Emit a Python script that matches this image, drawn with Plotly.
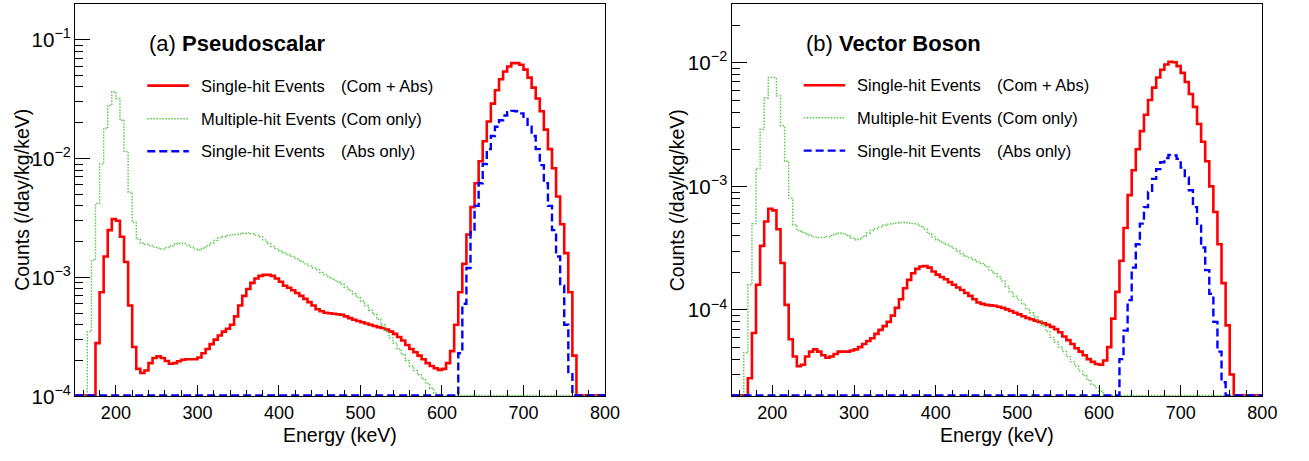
import numpy as np
import plotly.graph_objects as go

# ---------------- data (5 keV bins, values per bin starting at *_start) ----------------
E_MIN, E_MAX, BIN = 150, 800, 5

# panel (a) Pseudoscalar
a_red_start = 175
a_red = [2.8e-4, 7.5e-4, 1.5e-3, 2.5e-3, 3.1e-3, 3.0e-3, 2.2e-3, 1.35e-3, 5.8e-4, 2.6e-4,
         1.7e-4, 1.57e-4, 1.65e-4, 1.9e-4, 2.1e-4, 2.17e-4, 2.1e-4, 1.98e-4, 1.88e-4, 1.9e-4,
         1.97e-4, 2.03e-4, 2.05e-4, 2.05e-4, 2.05e-4, 2.12e-4, 2.3e-4, 2.5e-4, 2.75e-4, 3.0e-4,
         3.25e-4, 3.5e-4, 3.7e-4, 4.0e-4, 4.7e-4, 5.8e-4, 7.0e-4, 8.0e-4, 9.0e-4, 9.8e-4,
         1.03e-3, 1.05e-3, 1.05e-3, 1.03e-3, 9.8e-4, 9.2e-4, 8.5e-4, 8.2e-4, 7.8e-4, 7.4e-4,
         7.0e-4, 6.6e-4, 6.2e-4, 5.8e-4, 5.4e-4, 5.2e-4, 5.05e-4, 5.0e-4, 4.95e-4, 4.9e-4,
         4.85e-4, 4.7e-4, 4.55e-4, 4.4e-4, 4.3e-4, 4.2e-4, 4.1e-4, 4.0e-4, 3.9e-4, 3.82e-4,
         3.76e-4, 3.65e-4, 3.5e-4, 3.35e-4, 3.15e-4, 2.95e-4, 2.7e-4, 2.5e-4, 2.35e-4, 2.2e-4,
         2.05e-4, 1.9e-4, 1.8e-4, 1.72e-4, 1.67e-4, 1.7e-4, 1.9e-4, 2.4e-4, 4.0e-4, 7.5e-4,
         1.3e-3, 2.3e-3, 3.9e-3, 6.2e-3, 9.5e-3, 1.4e-2, 2.05e-2, 2.9e-2, 3.75e-2, 4.65e-2,
         5.4e-2, 5.95e-2, 6.35e-2, 6.35e-2, 6.15e-2, 5.6e-2, 4.8e-2, 3.95e-2, 3.2e-2, 2.5e-2,
         1.75e-2, 1.2e-2, 8.3e-3, 4.8e-3, 2.8e-3, 1.6e-3, 7.5e-4, 2.2e-4]

a_green_start = 165
a_green = [3.5e-4, 1.4e-3, 4.2e-3, 9.0e-3, 1.8e-2, 2.8e-2, 3.65e-2, 3.2e-2, 2.1e-2, 1.15e-2,
           5.2e-3, 2.9e-3, 2.1e-3, 1.95e-3, 1.9e-3, 1.85e-3, 1.8e-3, 1.76e-3, 1.74e-3, 1.78e-3,
           1.84e-3, 1.9e-3, 1.94e-3, 1.93e-3, 1.87e-3, 1.8e-3, 1.73e-3, 1.7e-3, 1.76e-3, 1.85e-3,
           1.95e-3, 2.05e-3, 2.15e-3, 2.2e-3, 2.25e-3, 2.28e-3, 2.3e-3, 2.32e-3, 2.35e-3, 2.37e-3,
           2.33e-3, 2.27e-3, 2.2e-3, 2.07e-3, 1.93e-3, 1.82e-3, 1.74e-3, 1.67e-3, 1.6e-3, 1.55e-3,
           1.5e-3, 1.44e-3, 1.37e-3, 1.3e-3, 1.25e-3, 1.2e-3, 1.16e-3, 1.1e-3, 1.05e-3, 1.0e-3,
           9.6e-4, 9.2e-4, 8.8e-4, 8.3e-4, 7.8e-4, 7.3e-4, 6.8e-4, 6.3e-4, 5.8e-4, 5.3e-4,
           4.9e-4, 4.45e-4, 4.0e-4, 3.5e-4, 3.1e-4, 2.8e-4, 2.5e-4, 2.25e-4, 2.0e-4, 1.8e-4,
           1.65e-4, 1.52e-4, 1.4e-4, 1.28e-4, 1.17e-4, 1.06e-4]

a_blue_start = 620
a_blue = [2.3e-4, 6.0e-4, 1.2e-3, 2.4e-3, 4.0e-3, 6.2e-3, 9.0e-3, 1.2e-2, 1.55e-2, 1.85e-2,
          2.1e-2, 2.3e-2, 2.45e-2, 2.52e-2, 2.5e-2, 2.4e-2, 2.15e-2, 1.85e-2, 1.55e-2, 1.2e-2,
          8.8e-3, 6.2e-3, 4.0e-3, 2.5e-3, 1.5e-3, 8.5e-4, 4.0e-4, 1.6e-4]

# panel (b) Vector Boson
b_red_start = 170
b_red = [2.8e-5, 6.5e-5, 1.6e-4, 3.3e-4, 5.2e-4, 6.6e-4, 6.4e-4, 4.5e-4, 2.4e-4, 1.1e-4,
         5.8e-5, 4.2e-5, 3.5e-5, 3.6e-5, 4.2e-5, 4.6e-5, 4.8e-5, 4.6e-5, 4.3e-5, 4.1e-5,
         4.2e-5, 4.4e-5, 4.6e-5, 4.6e-5, 4.6e-5, 4.7e-5, 4.8e-5, 5.0e-5, 5.3e-5, 5.6e-5,
         5.9e-5, 6.4e-5, 6.9e-5, 7.4e-5, 8.0e-5, 9.0e-5, 1.04e-4, 1.22e-4, 1.5e-4, 1.75e-4,
         1.98e-4, 2.15e-4, 2.25e-4, 2.27e-4, 2.2e-4, 2.05e-4, 1.93e-4, 1.85e-4, 1.77e-4, 1.68e-4,
         1.6e-4, 1.52e-4, 1.45e-4, 1.37e-4, 1.3e-4, 1.22e-4, 1.15e-4, 1.12e-4, 1.1e-4, 1.09e-4,
         1.08e-4, 1.06e-4, 1.04e-4, 1.01e-4, 9.8e-5, 9.5e-5, 9.2e-5, 8.9e-5, 8.6e-5, 8.4e-5,
         8.2e-5, 8.0e-5, 7.8e-5, 7.6e-5, 7.3e-5, 7.0e-5, 6.6e-5, 6.1e-5, 5.7e-5, 5.3e-5,
         4.9e-5, 4.6e-5, 4.3e-5, 4.0e-5, 3.8e-5, 3.65e-5, 3.6e-5, 3.9e-5, 5.0e-5, 8.5e-5,
         1.4e-4, 2.5e-4, 4.6e-4, 8.5e-4, 1.35e-3, 2.0e-3, 2.8e-3, 3.8e-3, 5.0e-3, 6.3e-3,
         7.6e-3, 8.8e-3, 9.7e-3, 1.02e-2, 1.01e-2, 9.4e-3, 8.3e-3, 7.0e-3, 5.6e-3, 4.4e-3,
         3.2e-3, 2.3e-3, 1.6e-3, 1.0e-3, 6.2e-4, 3.4e-4, 1.65e-4, 7.5e-5, 3.0e-5]

b_green_start = 165
b_green = [4.5e-5, 1.6e-4, 5.0e-4, 1.4e-3, 2.9e-3, 5.2e-3, 7.6e-3, 7.6e-3, 5.4e-3, 3.1e-3,
           1.6e-3, 8.0e-4, 4.9e-4, 4.4e-4, 4.25e-4, 4.1e-4, 4.0e-4, 3.9e-4, 3.85e-4, 3.87e-4,
           3.93e-4, 4.0e-4, 4.1e-4, 4.18e-4, 4.15e-4, 4.0e-4, 3.8e-4, 3.7e-4, 3.75e-4, 3.95e-4,
           4.2e-4, 4.4e-4, 4.55e-4, 4.7e-4, 4.85e-4, 4.95e-4, 5.0e-4, 5.05e-4, 5.1e-4, 5.1e-4,
           5.05e-4, 5.0e-4, 4.95e-4, 4.75e-4, 4.5e-4, 4.15e-4, 3.9e-4, 3.7e-4, 3.55e-4, 3.4e-4,
           3.3e-4, 3.15e-4, 3.0e-4, 2.85e-4, 2.72e-4, 2.65e-4, 2.55e-4, 2.45e-4, 2.37e-4, 2.25e-4,
           2.1e-4, 1.97e-4, 1.86e-4, 1.72e-4, 1.55e-4, 1.4e-4, 1.29e-4, 1.2e-4, 1.12e-4, 1.02e-4,
           9.5e-5, 8.8e-5, 8.2e-5, 7.4e-5, 6.7e-5, 6.0e-5, 5.5e-5, 5.0e-5, 4.6e-5, 4.2e-5,
           3.8e-5, 3.5e-5, 3.2e-5, 2.95e-5, 2.7e-5, 2.5e-5, 2.35e-5, 2.2e-5, 2.05e-5]

b_blue_start = 625
b_blue = [4.0e-5, 6.8e-5, 1.2e-4, 2.2e-4, 3.4e-4, 5.0e-4, 6.8e-4, 9.0e-4, 1.15e-3, 1.38e-3,
          1.57e-3, 1.7e-3, 1.8e-3, 1.78e-3, 1.67e-3, 1.42e-3, 1.18e-3, 9.3e-4, 6.8e-4, 4.8e-4,
          3.2e-4, 2.1e-4, 1.35e-4, 8.0e-5, 4.6e-5, 2.6e-5]

legend_labels = [("Single-hit Events", "(Com + Abs)"),
                 ("Multiple-hit Events", "(Com only)"),
                 ("Single-hit Events", "(Abs only)")]
titles = [("(a)", "Pseudoscalar"), ("(b)", "Vector Boson")]
x_title = "Energy (keV)"
y_title = "Counts (/day/kg/keV)"
y_ranges = [(1e-4, 0.2), (2e-5, 3e-2)]

# ---------------- styling ----------------
W, H = 1309, 461
FONT = "Liberation Sans, Arial, Helvetica, sans-serif"
styles = [dict(color="#ff0000", width=2.6, dash="solid"),
          dict(color="#55c844", width=1.4, dash="1.5px,1.5px"),
          dict(color="#0000ff", width=2.4, dash="8px,4px")]

edges = np.arange(E_MIN, E_MAX + BIN, BIN)
nbins = len(edges) - 1

# plot frames (pixels)
frames = [(76, 612), (740, 1277)]
y_top, y_bot = 4, 406
ytitle_x = [22, 685]


def full_hist(start, vals):
    arr = np.zeros(nbins)
    i0 = (start - E_MIN) // BIN
    arr[i0:i0 + len(vals)] = vals
    return arr


panels = [
    [(a_red_start, a_red), (a_green_start, a_green), (a_blue_start, a_blue)],
    [(b_red_start, b_red), (b_green_start, b_green), (b_blue_start, b_blue)],
]

fig = go.Figure()
for p, series in enumerate(panels):
    lo, hi = y_ranges[p]
    dec_px = (y_bot - y_top) / (np.log10(hi) - np.log10(lo))
    floor = lo * 10 ** (1.0 / dec_px)  # empty bins drawn along the frame bottom, as ROOT does
    xa = "x" if p == 0 else "x2"
    ya = "y" if p == 0 else "y2"
    for s, (start, vals) in enumerate(series):
        h = full_hist(start, vals)
        h = np.where(h > floor, h, floor)
        yy = np.append(h, h[-1])
        fig.add_trace(go.Scatter(x=edges, y=yy, mode="lines", line_shape="hv",
                                 line=styles[s], xaxis=xa, yaxis=ya,
                                 showlegend=False, hoverinfo="skip"))

axis_common = dict(showline=True, linecolor="black", linewidth=1, mirror=True,
                   showgrid=False, zeroline=False, ticks="inside", tickcolor="black")

for p in range(2):
    sfx = "" if p == 0 else "2"
    x0, x1 = frames[p]
    fig.update_layout(**{
        "xaxis" + sfx: dict(axis_common, domain=[x0 / W, x1 / W], range=[E_MIN, E_MAX],
                            anchor="y" + sfx, tick0=0, dtick=100, ticklen=11, tickwidth=1,
                            tickfont=dict(family=FONT, size=18, color="black"),
                            minor=dict(dtick=20, ticks="inside", ticklen=6, tickcolor="black")),
        "yaxis" + sfx: dict(axis_common, type="log", anchor="x" + sfx,
                            domain=[(H - y_bot) / H, (H - y_top) / H],
                            range=[np.log10(y_ranges[p][0]), np.log10(y_ranges[p][1])],
                            dtick=1, exponentformat="power", ticklen=15, tickwidth=1,
                            tickfont=dict(family=FONT, size=16.5, color="black"),
                            minor=dict(dtick="D1", ticks="inside", ticklen=8, tickcolor="black")),
    })

# legends / titles / axis titles drawn as text in each pad
shapes, annots = [], []
leg_x = [149, 813]
rows_y = [[87.7, 121.7, 155.0], [87.3, 120.7, 154.3]]
for p in range(2):
    lx = leg_x[p]
    x0, x1 = frames[p]
    annots.append(dict(x=(x0 + x1) / 2 / W, y=(H - 446) / H, xref="paper", yref="paper",
                       xanchor="center", yanchor="middle", showarrow=False, text=x_title,
                       font=dict(family=FONT, size=19.5, color="black")))
    annots.append(dict(x=ytitle_x[p] / W, y=(H - (y_top + y_bot) / 2) / H, xref="paper", yref="paper",
                       xanchor="center", yanchor="middle", showarrow=False, text=y_title,
                       textangle=-90, font=dict(family=FONT, size=19.5, color="black")))
    annots.append(dict(x=lx / W, y=(H - 45) / H, xref="paper", yref="paper", xanchor="left",
                       yanchor="middle", showarrow=False,
                       text=f"{titles[p][0]} <b>{titles[p][1]}</b>",
                       font=dict(family=FONT, size=22, color="black")))
    for r in range(3):
        yv = (H - rows_y[p][r]) / H
        st = styles[r]
        shapes.append(dict(type="line", xref="paper", yref="paper", x0=lx / W, x1=(lx + 42) / W,
                           y0=yv, y1=yv, line=dict(color=st["color"], width=st["width"], dash=st["dash"])))
        annots.append(dict(x=(lx + 52) / W, y=yv, xref="paper", yref="paper", xanchor="left",
                           yanchor="middle", showarrow=False, text=legend_labels[r][0],
                           font=dict(family=FONT, size=16.5, color="black")))
        annots.append(dict(x=(lx + 194) / W, y=yv, xref="paper", yref="paper", xanchor="left",
                           yanchor="middle", showarrow=False, text=legend_labels[r][1],
                           font=dict(family=FONT, size=16.5, color="black")))

fig.update_layout(width=W, height=H, margin=dict(l=0, r=0, t=0, b=0),
                  paper_bgcolor="white", plot_bgcolor="white",
                  shapes=shapes, annotations=annots, showlegend=False,
                  font=dict(family=FONT, color="black"))

pin_page = ("var d=document.getElementById('{plot_id}');"
            "d.style.position='fixed';d.style.left='0px';d.style.top='0px';"
            "document.body.style.margin='0';document.body.style.overflow='hidden';"
            "document.documentElement.style.overflow='hidden';")
fig.write_html("out.html", config={"displayModeBar": False}, post_script=pin_page)
